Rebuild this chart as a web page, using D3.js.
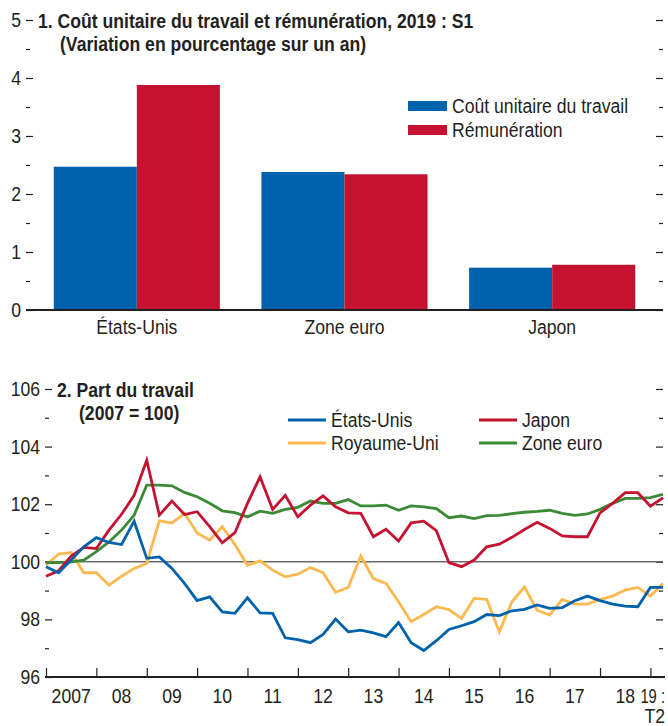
<!DOCTYPE html>
<html>
<head>
<meta charset="utf-8">
<script src="https://cdn.jsdelivr.net/npm/d3@7"></script>
<style>
  body { margin: 0; background: #fff; }
  svg text { font-family: "Liberation Sans", Arial, sans-serif; fill: #231f20; }
  .axis path.domain { display: none; }
  .axis line { stroke: #231f20; stroke-width: 1.2; }
</style>
</head>
<body>
<div id="container"></div>
<script>

// Panel 1 data : 2019 S1, variation sur un an (%)
var categories = ["États-Unis", "Zone euro", "Japon"];
var coutUnitaire = [2.47, 2.38, 0.73];
var remuneration = [3.88, 2.34, 0.78];
var barSeries = ["Coût unitaire du travail", "Rémunération"];
var barTicks = [0, 1, 2, 3, 4, 5];

// Panel 2 data : part du travail, trimestriel 2007 T1 - 2019 T2 (2007 = 100)
var etatsUnis = [99.83, 99.62, 100.06, 100.52, 100.84, 100.67, 100.60, 101.41, 100.12, 100.17,
                 99.77, 99.25, 98.65, 98.78, 98.26, 98.21, 98.75, 98.23, 98.21, 97.36,
                 97.30, 97.19, 97.48, 98.01, 97.57, 97.63, 97.53, 97.40, 97.89, 97.19,
                 96.92, 97.26, 97.65, 97.78, 97.92, 98.17, 98.13, 98.30, 98.35, 98.50,
                 98.38, 98.41, 98.65, 98.81, 98.65, 98.53, 98.46, 98.44, 99.11, 99.11];
var japon = [99.50, 99.69, 100.20, 100.50, 100.46, 101.10, 101.65, 102.31, 103.53, 101.62,
             102.11, 101.64, 101.74, 101.22, 100.66, 101.01, 102.03, 102.95, 101.82, 102.31,
             101.56, 101.97, 102.29, 101.91, 101.70, 101.68, 100.87, 101.13, 100.72, 101.35,
             101.41, 101.08, 99.97, 99.83, 100.06, 100.52, 100.61, 100.85, 101.12, 101.37,
             101.16, 100.90, 100.87, 100.87, 101.70, 102.03, 102.40, 102.40, 101.93, 102.22];
var royaumeUni = [99.88, 100.27, 100.32, 99.62, 99.62, 99.19, 99.50, 99.77, 99.94, 101.42,
                  101.35, 101.68, 101.00, 100.75, 101.22, 100.60, 99.88, 100.03, 99.71, 99.48,
                  99.57, 99.80, 99.62, 98.94, 99.11, 100.20, 99.42, 99.25, 98.61, 97.92,
                  98.17, 98.44, 98.34, 98.03, 98.73, 98.70, 97.57, 98.61, 99.13, 98.32,
                  98.15, 98.69, 98.53, 98.53, 98.69, 98.81, 99.02, 99.11, 98.81, 99.25];
var zoneEuro = [99.97, 99.97, 100.00, 100.06, 100.35, 100.69, 101.10, 101.62, 102.66, 102.66,
                102.64, 102.41, 102.26, 102.03, 101.77, 101.71, 101.56, 101.76, 101.68, 101.82,
                101.89, 102.11, 102.03, 102.03, 102.16, 101.94, 101.94, 101.97, 101.79, 101.94,
                101.91, 101.85, 101.53, 101.59, 101.50, 101.60, 101.61, 101.67, 101.72, 101.75,
                101.79, 101.68, 101.61, 101.66, 101.82, 102.03, 102.20, 102.20, 102.23, 102.34];
var years = [2007, 2008, 2009, 2010, 2011, 2012, 2013, 2014, 2015, 2016, 2017, 2018, 2019];
var yearLabels = ["2007", "08", "09", "10", "11", "12", "13", "14", "15", "16", "17", "18", "19 :"];
var lineTicks = [96, 98, 100, 102, 104, 106];

var blue = "#0061ad", red = "#c41230", yellow = "#fdb94f", green = "#3b8a36";
var fontSize = "20px";

var svg = d3.select("#container")
    .append("svg")
        .attr("width", 668)
        .attr("height", 726);

// ---------- Panel 1 : bars ----------
var yBar = d3.scaleLinear().domain([0, 5]).range([310, 20]);
var xBar = d3.scaleBand().domain(categories).range([33, 656])
    .paddingInner(0.2).paddingOuter(0.1);
var xSub = d3.scaleBand().domain(barSeries).range([0, xBar.bandwidth()]);
var barColor = d3.scaleOrdinal().domain(barSeries).range([blue, red]);

var panel1 = svg.append("g");

var groups = panel1.selectAll(".grp")
    .data(categories)
    .enter().append("g")
        .attr("transform", function(d) { return "translate(" + xBar(d) + ",0)"; });

groups.selectAll("rect")
    .data(function(d, i) { return [coutUnitaire[i], remuneration[i]].map(function(v, j) { return {s: barSeries[j], v: v}; }); })
    .enter().append("rect")
        .attr("x", function(d) { return xSub(d.s); })
        .attr("y", function(d) { return yBar(d.v); })
        .attr("width", xSub.bandwidth())
        .attr("height", function(d) { return yBar(0) - yBar(d.v); })
        .style("fill", function(d) { return barColor(d.s); });

// left axis, major and minor
panel1.append("g").attr("class", "axis")
    .attr("transform", "translate(33,0)")
    .call(d3.axisLeft(yBar).tickValues(barTicks).tickSize(7).tickPadding(5).tickFormat(d3.format("d")))
    .selectAll("text").style("font-size", fontSize);
panel1.append("g").attr("class", "axis")
    .attr("transform", "translate(30,0)")
    .call(d3.axisLeft(yBar).tickValues([0.5, 1.5, 2.5, 3.5, 4.5]).tickSize(4).tickFormat(""));

// right axis, ticks only
panel1.append("g").attr("class", "axis")
    .attr("transform", "translate(663,0)")
    .call(d3.axisLeft(yBar).tickValues(barTicks).tickSize(7).tickFormat(""));
panel1.append("g").attr("class", "axis")
    .attr("transform", "translate(663,0)")
    .call(d3.axisLeft(yBar).tickValues([0.5, 1.5, 2.5, 3.5, 4.5]).tickSize(4).tickFormat(""));

// baseline
panel1.append("line")
    .attr("x1", 26).attr("x2", 663)
    .attr("y1", yBar(0)).attr("y2", yBar(0))
    .style("stroke", "#231f20").style("stroke-width", 2);

// category labels
panel1.selectAll(".cat")
    .data(categories)
    .enter().append("text")
        .attr("x", function(d) { return xBar(d) + xBar.bandwidth() / 2; })
        .attr("y", 334)
        .attr("text-anchor", "middle")
        .style("font-size", fontSize)
        .text(function(d) { return d; });

// title
panel1.append("text").attr("x", 38).attr("y", 28)
    .style("font-size", fontSize).style("font-weight", "bold")
    .text("1. Coût unitaire du travail et rémunération, 2019 : S1");
panel1.append("text").attr("x", 60).attr("y", 51)
    .style("font-size", fontSize).style("font-weight", "bold")
    .text("(Variation en pourcentage sur un an)");

// legend
var barLegend = panel1.selectAll(".blg")
    .data(barSeries)
    .enter().append("g")
        .attr("transform", function(d, i) { return "translate(408," + (101 + i * 24) + ")"; });
barLegend.append("rect")
    .attr("width", 39).attr("height", 10)
    .style("fill", function(d) { return barColor(d); });
barLegend.append("text")
    .attr("x", 44).attr("y", 5).attr("dy", "0.35em")
    .style("font-size", fontSize)
    .text(function(d) { return d; });

// ---------- Panel 2 : lines ----------
var periods = etatsUnis.map(function(d, i) { return 2007 + i / 4; });
var x = d3.scaleLinear().domain([2007, 2019.25]).range([46, 663]);
var y = d3.scaleLinear().domain([96, 106]).range([677, 389]);

var panel2 = svg.append("g");

panel2.append("g").attr("class", "axis")
    .attr("transform", "translate(52,0)")
    .call(d3.axisLeft(y).tickValues(lineTicks).tickSize(7).tickPadding(5))
    .selectAll("text").style("font-size", fontSize);
panel2.append("g").attr("class", "axis")
    .attr("transform", "translate(49,0)")
    .call(d3.axisLeft(y).tickValues([97, 99, 101, 103, 105]).tickSize(4).tickFormat(""));
panel2.append("g").attr("class", "axis")
    .attr("transform", "translate(663,0)")
    .call(d3.axisLeft(y).tickValues(lineTicks).tickSize(7).tickFormat(""));
panel2.append("g").attr("class", "axis")
    .attr("transform", "translate(663,0)")
    .call(d3.axisLeft(y).tickValues([97, 99, 101, 103, 105]).tickSize(4).tickFormat(""));

// x axis : year ticks pointing up
panel2.append("g").attr("class", "axis")
    .attr("transform", "translate(0," + y(96) + ")")
    .call(d3.axisBottom(x).tickValues(years).tickSize(-9).tickFormat(""));
panel2.append("line")
    .attr("x1", 45).attr("x2", 665)
    .attr("y1", y(96)).attr("y2", y(96))
    .style("stroke", "#231f20").style("stroke-width", 2);

// year labels in the middle of each year, last one squeezed against the right edge
var last = years.length - 1;
panel2.selectAll(".yr")
    .data(years)
    .enter().append("text")
        .attr("class", function(d, i) { return i < last ? "yr" : "yr lastyr"; })
        .attr("x", function(d, i) { return i < last ? x(d + 0.5) : x(d) - 10; })
        .attr("y", 703)
        .attr("text-anchor", function(d, i) { return i < last ? "middle" : "start"; })
        .style("font-size", fontSize)
        .text(function(d, i) { return yearLabels[i]; });
panel2.append("text")
    .attr("x", 665).attr("y", 723)
    .attr("text-anchor", "end")
    .style("font-size", fontSize)
    .text("T2");

// reference line at 100
panel2.append("line")
    .attr("x1", 45).attr("x2", 663)
    .attr("y1", y(100)).attr("y2", y(100))
    .style("stroke", "#6b6b6b").style("stroke-width", 1.5);

var line = d3.line()
    .x(function(d, i) { return x(periods[i]); })
    .y(function(d) { return y(d); });

var lineSeries = [
    {name: "Royaume-Uni", values: royaumeUni, color: yellow},
    {name: "Zone euro", values: zoneEuro, color: green},
    {name: "Japon", values: japon, color: red},
    {name: "États-Unis", values: etatsUnis, color: blue}
];

panel2.selectAll(".series")
    .data(lineSeries)
    .enter().append("path")
        .attr("d", function(d) { return line(d.values); })
        .style("fill", "none")
        .style("stroke", function(d) { return d.color; })
        .style("stroke-width", 2.8);

// title
panel2.append("text").attr("x", 57).attr("y", 397)
    .style("font-size", fontSize).style("font-weight", "bold")
    .text("2. Part du travail");
panel2.append("text").attr("x", 79).attr("y", 420)
    .style("font-size", fontSize).style("font-weight", "bold")
    .text("(2007 = 100)");

// legend
var legendPos = {"États-Unis": [288, 420], "Royaume-Uni": [288, 443], "Japon": [479, 420], "Zone euro": [479, 443]};
var lineLegend = panel2.selectAll(".llg")
    .data(lineSeries)
    .enter().append("g")
        .attr("transform", function(d) { return "translate(" + legendPos[d.name][0] + "," + legendPos[d.name][1] + ")"; });
lineLegend.append("line")
    .attr("x1", 0).attr("x2", 38)
    .style("stroke", function(d) { return d.color; })
    .style("stroke-width", 3);
lineLegend.append("text")
    .attr("x", 43).attr("dy", "0.35em")
    .style("font-size", fontSize)
    .text(function(d) { return d.name; });

// condensed look : squeeze every label horizontally
svg.selectAll("text").each(function() {
    var w = this.getComputedTextLength();
    if (w > 0) {
        var target = w * 0.88;
        if (d3.select(this).classed("lastyr")) target = Math.min(target, 665 - (+this.getAttribute("x")));
        d3.select(this)
            .attr("textLength", target)
            .attr("lengthAdjust", "spacingAndGlyphs");
    }
});

</script>
</body>
</html>
